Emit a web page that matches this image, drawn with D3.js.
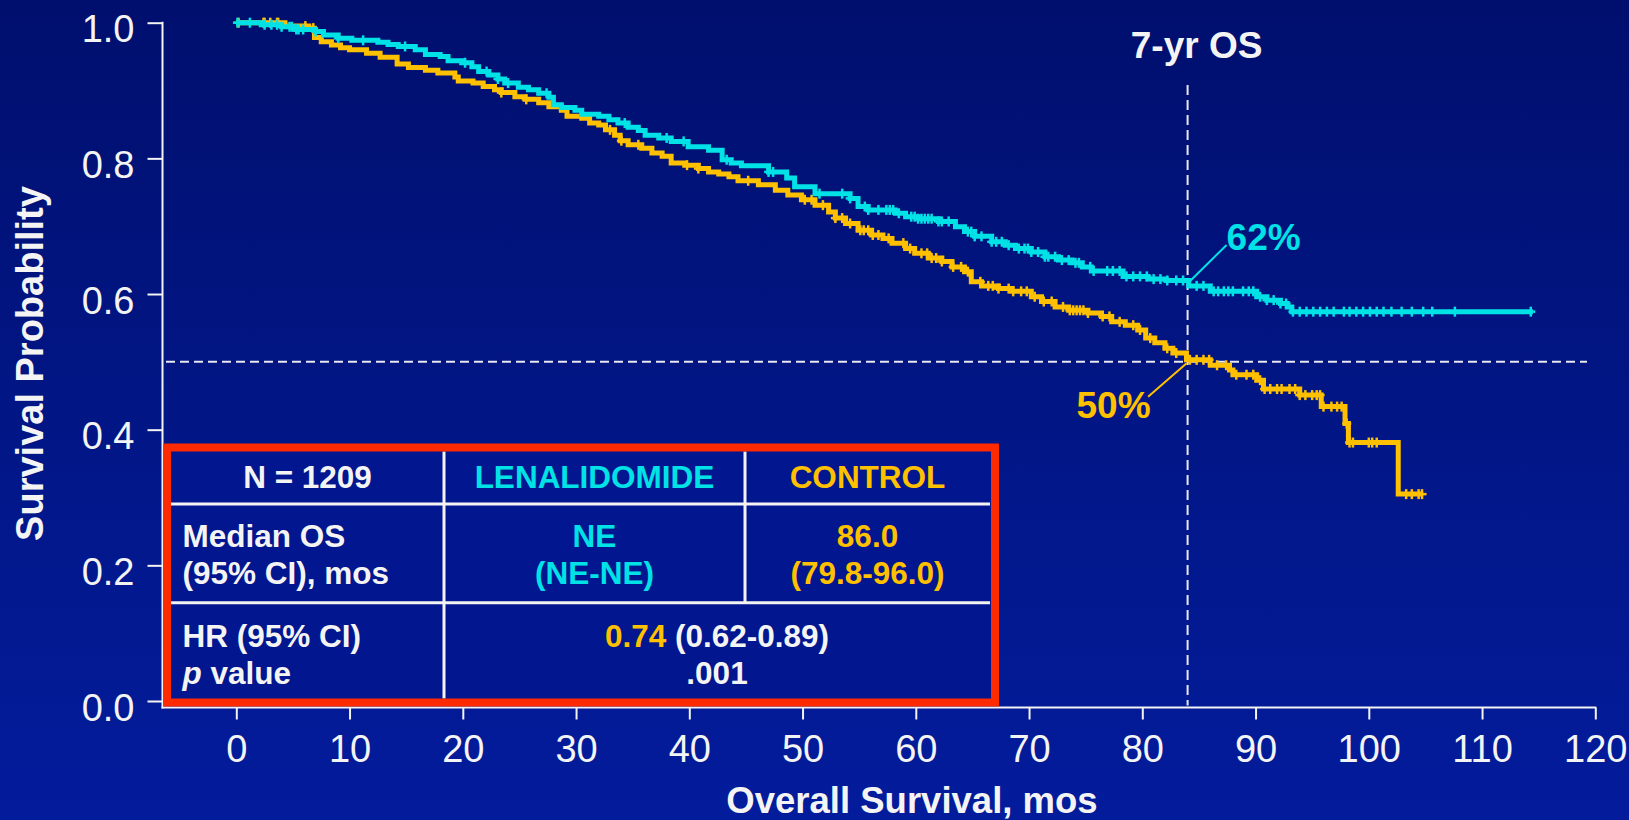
<!DOCTYPE html>
<html>
<head>
<meta charset="utf-8">
<script src="https://cdn.jsdelivr.net/npm/d3@7"></script>
<style>
  html, body { margin: 0; padding: 0; background: #00106f; }
  svg { display: block; font-family: "Liberation Sans", Arial, Helvetica, sans-serif; }
</style>
</head>
<body>
<svg id="chart" width="1629" height="820"></svg>
<script>
// Kaplan-Meier steps: [month, survival probability from that month on]
const lenaSteps = [
  [0,1.000],[2.2,0.997],[4.0,0.994],[5.2,0.990],[7.0,0.987],[7.7,0.982],[9.0,0.977],[10.2,0.974],
  [12.5,0.971],[13.4,0.968],[14.3,0.965],[15.8,0.960],[16.7,0.953],[18.0,0.950],[18.7,0.944],
  [19.9,0.941],[20.8,0.935],[21.4,0.928],[22.3,0.923],[23.1,0.917],[23.7,0.911],[24.9,0.905],
  [25.8,0.901],[26.7,0.896],[27.6,0.890],[28.0,0.879],[28.7,0.875],[29.9,0.871],[30.5,0.865],
  [32.0,0.862],[32.9,0.857],[33.7,0.852],[34.6,0.846],[35.5,0.841],[36.1,0.834],[37.3,0.830],
  [38.4,0.825],[39.9,0.817],[41.7,0.812],[42.9,0.798],[43.7,0.793],[44.6,0.789],[47.0,0.780],
  [48.6,0.771],[49.3,0.758],[51.1,0.748],[54.2,0.741],[54.9,0.729],[55.8,0.724],[58.2,0.719],
  [59.1,0.714],[60.2,0.711],[62.0,0.707],[63.5,0.699],[64.3,0.692],[65.2,0.685],[66.7,0.677],
  [67.9,0.672],[68.8,0.667],[70.2,0.662],[71.4,0.655],[72.6,0.650],[73.8,0.646],[74.7,0.640],
  [75.5,0.634],[78.3,0.626],[80.5,0.622],[82.1,0.620],[84.1,0.612],[86.0,0.604],[90.1,0.596],
  [91.0,0.591],[92.2,0.586],[92.8,0.581],[93.2,0.574]
];
const lenaEnd = 114.5;
const lenaCensor = [
  0.1,1.2,2.5,3.1,3.6,4.0,4.7,4.9,5.3,5.5,5.9,7.0,9.0,11.2,14.9,20.2,22.1,23.1,24.0,27.4,34.3,38.0,
  39.5,43.3,47.0,47.4,51.5,53.5,54.2,55.5,55.8,56.7,57.4,57.7,58.0,58.5,59.6,59.9,60.2,60.5,60.8,
  61.1,61.4,62.0,62.3,62.9,64.6,64.9,65.2,65.8,66.7,67.1,67.6,68.2,69.1,69.6,69.9,70.2,70.8,71.4,
  71.7,72.3,72.9,73.5,74.1,74.4,75.4,75.7,76.9,77.4,78.0,78.6,79.2,79.8,80.4,81.0,81.6,82.2,83.0,
  83.6,84.8,85.4,86.3,86.7,87.2,87.6,88.0,88.9,89.4,89.8,90.4,91.0,91.6,92.2,92.7,93.3,93.9,94.5,
  95.1,95.7,96.3,96.9,97.8,98.3,98.9,99.5,100.1,100.7,101.3,102.0,102.9,103.8,104.8,105.6,107.6,114.3
];

const controlSteps = [
  [0,1.000],[4.3,0.995],[6.4,0.992],[6.9,0.978],[7.5,0.972],[8.4,0.967],[9.2,0.963],[10.0,0.960],
  [11.5,0.955],[12.7,0.949],[14.2,0.939],[15.2,0.934],[16.7,0.930],[17.8,0.926],[19.3,0.920],
  [19.6,0.914],[20.9,0.911],[21.8,0.906],[22.8,0.901],[23.4,0.897],[24.6,0.891],[25.5,0.887],
  [26.7,0.882],[27.6,0.876],[28.7,0.871],[29.2,0.862],[30.5,0.859],[31.2,0.852],[32.0,0.849],
  [32.6,0.842],[33.4,0.834],[33.9,0.826],[34.6,0.820],[35.8,0.815],[36.7,0.808],[37.6,0.803],
  [38.4,0.793],[39.6,0.790],[40.8,0.785],[41.7,0.780],[42.6,0.777],[43.5,0.773],[44.3,0.767],
  [46.1,0.761],[47.6,0.753],[48.7,0.746],[49.9,0.739],[51.1,0.731],[52.3,0.721],[52.9,0.712],
  [53.8,0.704],[54.9,0.694],[56.1,0.687],[57.1,0.682],[57.9,0.675],[59.1,0.667],[59.9,0.660],
  [61.1,0.653],[62.3,0.648],[63.2,0.640],[64.3,0.633],[64.9,0.618],[65.8,0.612],[67.3,0.608],
  [68.5,0.604],[70.2,0.596],[71.1,0.589],[72.3,0.581],[73.5,0.576],[75.2,0.572],[76.4,0.567],
  [77.3,0.559],[78.5,0.554],[79.6,0.547],[80.3,0.535],[81.1,0.528],[82.0,0.520],[82.7,0.513],
  [83.9,0.503],[86.0,0.495],[87.7,0.488],[88.0,0.481],[90.1,0.473],[90.7,0.460],[93.9,0.451],
  [95.8,0.434],[97.9,0.409],[98.2,0.381],[102.6,0.305]
];
const controlEnd = 104.8;
const controlCensor = [
  0.2,2.4,2.5,3.0,3.6,3.7,6.1,6.8,23.4,25.6,33.0,34.0,35.5,39.8,40.8,45.2,50.2,50.8,51.8,52.9,53.5,
  54.2,55.1,55.4,55.8,56.2,56.7,57.6,58.9,59.5,60.5,61.0,61.4,61.8,62.3,63.3,64.0,64.6,65.7,66.4,
  66.8,67.3,68.2,68.6,69.3,69.8,70.5,71.3,72.0,73.0,73.6,73.9,74.2,74.5,74.8,75.2,76.5,77.1,78.0,
  79.2,79.8,80.7,82.2,83.0,84.2,84.8,85.4,85.9,86.6,87.4,88.3,89.2,89.8,90.4,90.8,91.3,91.9,92.3,
  93.0,93.5,93.9,94.4,95.0,95.4,95.7,96.0,96.7,97.2,97.6,98.05,98.3,98.6,100.0,100.3,100.7,103.3,
  103.8,104.4,104.7
];

const xTicks = [0,10,20,30,40,50,60,70,80,90,100,110,120];
const yTicks = [0.0,0.2,0.4,0.6,0.8,1.0];
const xTitle = "Overall Survival, mos";
const yTitle = "Survival Probability";

// 7-year landmark
const landmarkMonth = 84;
const landmarkTitle = "7-yr OS";
const landmarkLena = 0.62;
const landmarkControl = 0.50;

// summary table
const headerCells = ["N = 1209", "LENALIDOMIDE", "CONTROL"];
const medianLabel = ["Median OS", "(95% CI), mos"];
const medianLena = ["NE", "(NE-NE)"];
const medianControl = ["86.0", "(79.8-96.0)"];
const hrLabel = ["HR (95% CI)", "value"];
const hrValue = "0.74";
const hrCI = " (0.62-0.89)";
const pValue = ".001";

const CYAN = "#00e2e6";
const GOLD = "#ffc000";
const WHITE = "#f4f4f4";
const RED = "#ff2a00";

const svg = d3.select("#chart");

// background
const defs = svg.append("defs");
const grad = defs.append("linearGradient").attr("id", "bg").attr("x1", 0).attr("y1", 0).attr("x2", 0).attr("y2", 1);
grad.append("stop").attr("offset", "0%").attr("stop-color", "#000f6e");
grad.append("stop").attr("offset", "100%").attr("stop-color", "#031c9c");
svg.append("rect").attr("width", 1629).attr("height", 820).attr("fill", "url(#bg)");

const x = d3.scaleLinear().domain([0, 120]).range([236.3, 1595.3]);
const y = d3.scaleLinear().domain([0, 1]).range([701, 22.7]);
const axisLeftX = 162.5, axisBottomY = 707.5;

// axes
const yAxis = svg.append("g").attr("transform", `translate(${axisLeftX},0)`)
  .call(d3.axisLeft(y).tickValues(yTicks).tickFormat(d3.format(".1f")).tickSize(15).tickSizeOuter(0));
yAxis.select(".domain").remove();
yAxis.selectAll(".tick line").attr("stroke", WHITE).attr("stroke-width", 2);
yAxis.selectAll(".tick text").attr("fill", WHITE).attr("font-size", 38)
  .attr("font-family", "Liberation Sans, Arial, sans-serif")
  .attr("x", -28).attr("dy", 19);

const xAxis = svg.append("g").attr("transform", `translate(0,${axisBottomY})`)
  .call(d3.axisBottom(x).tickValues(xTicks).tickSize(12).tickSizeOuter(0));
xAxis.select(".domain").remove();
xAxis.selectAll(".tick line").attr("stroke", WHITE).attr("stroke-width", 2);
xAxis.selectAll(".tick text").attr("fill", WHITE).attr("font-size", 38)
  .attr("font-family", "Liberation Sans, Arial, sans-serif")
  .attr("y", 54).attr("dy", 0);

svg.append("line").attr("x1", axisLeftX).attr("x2", axisLeftX).attr("y1", y(1) - 1).attr("y2", axisBottomY + 1)
  .attr("stroke", WHITE).attr("stroke-width", 2);
svg.append("line").attr("x1", axisLeftX - 1).attr("x2", x(120) + 1).attr("y1", axisBottomY).attr("y2", axisBottomY)
  .attr("stroke", WHITE).attr("stroke-width", 2);

// axis titles
svg.append("text").attr("x", 912).attr("y", 813).attr("text-anchor", "middle")
  .attr("font-size", 36.5).attr("font-weight", "bold").attr("fill", WHITE).text(xTitle);
svg.append("text").attr("transform", "translate(42.5,363.5) rotate(-90)").attr("text-anchor", "middle")
  .attr("font-size", 38).attr("font-weight", "bold").attr("fill", WHITE).text(yTitle);

// reference lines
svg.append("line").attr("x1", 166).attr("x2", 1587).attr("y1", y(0.5)).attr("y2", y(0.5))
  .attr("stroke", "#e8e8f0").attr("stroke-width", 2).attr("stroke-dasharray", "9,5");
svg.append("line").attr("x1", x(landmarkMonth)).attr("x2", x(landmarkMonth)).attr("y1", 85).attr("y2", axisBottomY - 2)
  .attr("stroke", "#e8e8f0").attr("stroke-width", 2).attr("stroke-dasharray", "10,5");

// survival curves
const stepLine = d3.line().x(d => x(d[0])).y(d => y(d[1])).curve(d3.curveStepAfter);
const bis = d3.bisector(d => d[0]).right;
function survAt(steps, t) { return steps[Math.max(0, bis(steps, t) - 1)][1]; }

function drawArm(steps, end, censor, color) {
  const pts = steps.concat([[end, steps[steps.length - 1][1]]]);
  const g = svg.append("g");
  g.append("path").attr("d", stepLine(pts)).attr("fill", "none").attr("stroke", color)
    .attr("stroke-width", 5).attr("stroke-linejoin", "miter");
  const marks = g.selectAll("g.cm").data(censor).join("g").attr("class", "cm")
    .attr("transform", t => `translate(${x(t)},${y(survAt(steps, t))})`);
  marks.append("line").attr("x1", 0).attr("x2", 0).attr("y1", -5).attr("y2", 5)
    .attr("stroke", color).attr("stroke-width", 2.5);
  marks.append("line").attr("x1", -4.5).attr("x2", 4.5).attr("y1", 0).attr("y2", 0)
    .attr("stroke", color).attr("stroke-width", 2.5);
}
drawArm(controlSteps, controlEnd, controlCensor, GOLD);
drawArm(lenaSteps, lenaEnd, lenaCensor, CYAN);

// landmark annotations
const lx = x(landmarkMonth);
svg.append("text").attr("x", lx + 9).attr("y", 58).attr("text-anchor", "middle")
  .attr("font-size", 37).attr("font-weight", "bold").attr("fill", WHITE).text(landmarkTitle);

svg.append("line").attr("x1", lx + 2).attr("y1", y(landmarkLena) + 1).attr("x2", lx + 39).attr("y2", y(landmarkLena) - 35.5)
  .attr("stroke", CYAN).attr("stroke-width", 2);
svg.append("text").attr("x", lx + 39).attr("y", y(landmarkLena) - 30.5)
  .attr("font-size", 37).attr("font-weight", "bold").attr("fill", CYAN)
  .text(d3.format(".0%")(landmarkLena));

svg.append("line").attr("x1", lx - 1).attr("y1", y(landmarkControl) + 1.5).attr("x2", lx - 39.5).attr("y2", y(landmarkControl) + 35)
  .attr("stroke", GOLD).attr("stroke-width", 2);
svg.append("text").attr("x", lx - 37).attr("y", y(landmarkControl) + 56.5).attr("text-anchor", "end")
  .attr("font-size", 37).attr("font-weight", "bold").attr("fill", GOLD)
  .text(d3.format(".0%")(landmarkControl));

// summary table
const tb = svg.append("g").attr("font-size", 31.5).attr("font-weight", "bold");
const boxL = 167, boxR = 995, boxT = 447.5, boxB = 702.5;
const col1 = 444, col2 = 745, row1 = 504, row2 = 602.7;
const innerL = boxL + 4, innerR = boxR - 5;

tb.append("rect").attr("x", boxL).attr("y", boxT).attr("width", boxR - boxL).attr("height", boxB - boxT)
  .attr("fill", "#02168f");
[[col1, boxT + 4, col1, boxB - 4], [col2, boxT + 4, col2, row2],
 [innerL, row1, innerR, row1], [innerL, row2, innerR, row2]].forEach(s => {
  tb.append("line").attr("x1", s[0]).attr("y1", s[1]).attr("x2", s[2]).attr("y2", s[3])
    .attr("stroke", WHITE).attr("stroke-width", 3);
});

const c1 = (innerL + col1) / 2, c2 = (col1 + col2) / 2, c3 = (col2 + innerR) / 2, c23 = (col1 + innerR) / 2;
const headerColors = [WHITE, CYAN, GOLD];
[c1, c2, c3].forEach((cx, i) => {
  tb.append("text").attr("x", cx).attr("y", 487.5).attr("text-anchor", "middle")
    .attr("fill", headerColors[i]).text(headerCells[i]);
});
const leftX = 182.5;
medianLabel.forEach((s, i) => tb.append("text").attr("x", leftX).attr("y", 546.7 + i * 37).attr("fill", WHITE).text(s));
medianLena.forEach((s, i) => tb.append("text").attr("x", c2).attr("y", 546.7 + i * 37).attr("text-anchor", "middle").attr("fill", CYAN).text(s));
medianControl.forEach((s, i) => tb.append("text").attr("x", c3).attr("y", 546.7 + i * 37).attr("text-anchor", "middle").attr("fill", GOLD).text(s));

tb.append("text").attr("x", leftX).attr("y", 646.7).attr("fill", WHITE).text(hrLabel[0]);
const pv = tb.append("text").attr("x", leftX).attr("y", 683.5).attr("fill", WHITE);
pv.append("tspan").attr("font-style", "italic").text("p");
pv.append("tspan").text(" " + hrLabel[1]);

const hr = tb.append("text").attr("x", c23).attr("y", 646.7).attr("text-anchor", "middle").attr("fill", WHITE);
hr.append("tspan").attr("fill", GOLD).text(hrValue);
hr.append("tspan").attr("fill", WHITE).text(hrCI);
tb.append("text").attr("x", c23).attr("y", 683.5).attr("text-anchor", "middle").attr("fill", WHITE).text(pValue);

tb.append("rect").attr("x", boxL).attr("y", boxT).attr("width", boxR - boxL).attr("height", boxB - boxT)
  .attr("fill", "none").attr("stroke", RED).attr("stroke-width", 8);
</script>
</body>
</html>
